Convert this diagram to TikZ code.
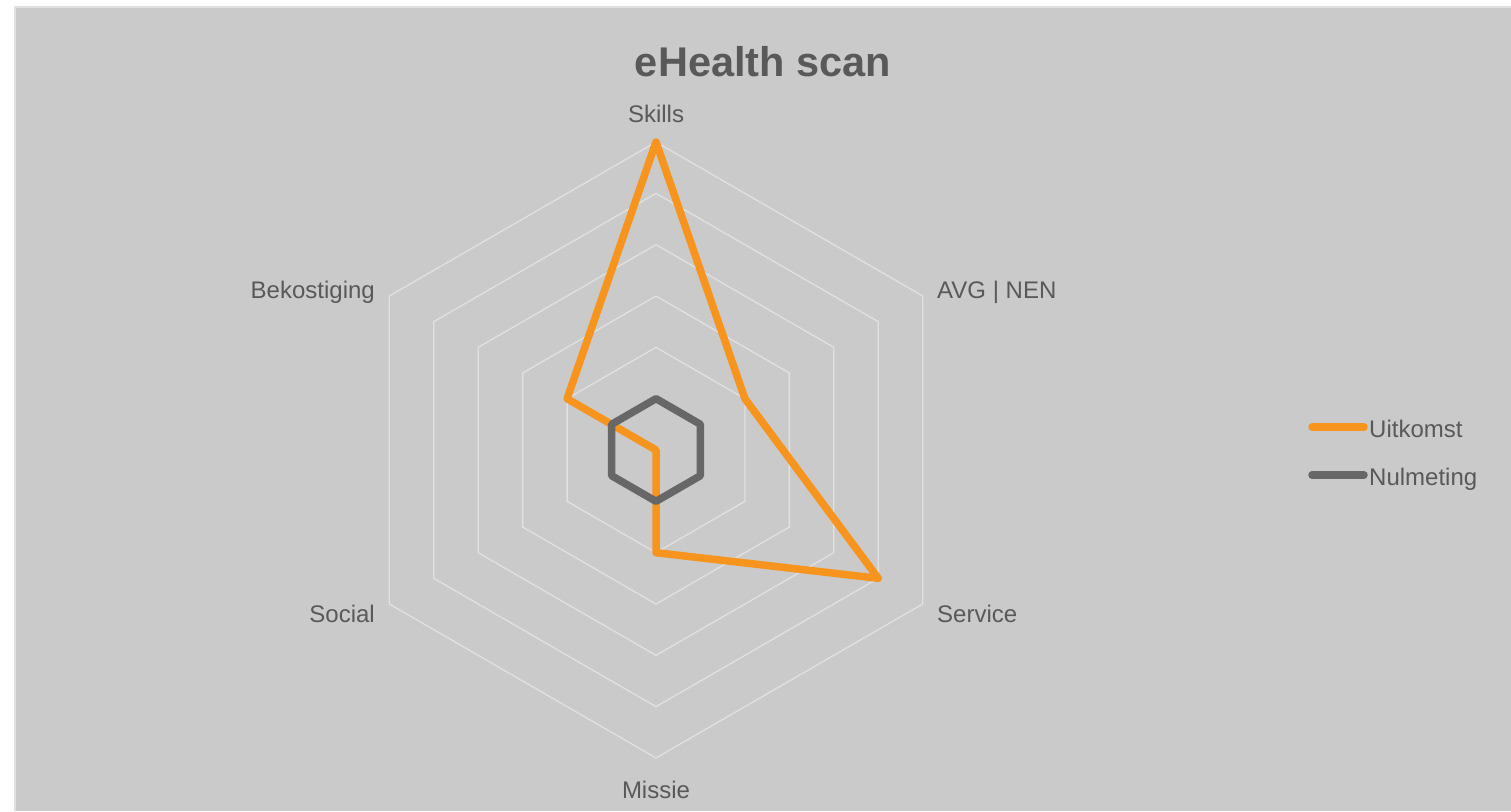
\documentclass[tikz,border=0pt]{standalone}
\usepackage{fontspec}
\setmainfont{Liberation Sans}
\definecolor{chartbg}{HTML}{CACACA}
\definecolor{gridline}{HTML}{E1E1E1}
\definecolor{labelgray}{HTML}{595959}
\definecolor{uitkomst}{HTML}{F7941E}
\definecolor{nulmeting}{HTML}{676767}
\tikzset{
  axislabel/.style={text=labelgray, font=\fontsize{24}{28}\selectfont, inner sep=0pt},
  charttitle/.style={text=labelgray, font=\fontsize{41.5}{48}\selectfont\bfseries, inner sep=0pt},
  series/.style={line width=7.5pt, line join=round},
  ring/.style={draw=gridline, line width=1.3pt}
}
\begin{document}
\begin{tikzpicture}[x=1pt,y=-1pt]
  \useasboundingbox (0,0) rectangle (1511,811);
  \fill[white] (0,0) rectangle (1511,811);
  \fill[chartbg] (15,7) rectangle (1511,811);
  \draw[gridline, line width=1.5pt] (15,811) -- (15,7) -- (1511,7);
  \node[charttitle, anchor=base] (title) at (763,76) {eHealth scan};

  \begin{scope}[shift={(656,450)}, x=51.33pt, y=51.33pt]
    % rings
    \foreach \r in {1,...,6}
      \draw[ring] (90:\r) -- (30:\r) -- (-30:\r) -- (-90:\r) -- (-150:\r) -- (150:\r) -- cycle;
    % series
    \draw[series, uitkomst] (90:6) -- (30:2) -- (-30:5) -- (-90:2) -- (0,0) -- (150:2) -- cycle;
    \draw[series, nulmeting] (90:1) -- (30:1) -- (-30:1) -- (-90:1) -- (-150:1) -- (150:1) -- cycle;
  \end{scope}

  % axis labels
  \node[axislabel, anchor=base] (skills) at (656,122) {Skills};
  \node[axislabel, anchor=base west] (avg) at (937,298) {AVG | NEN};
  \node[axislabel, anchor=base west] (service) at (937,622) {Service};
  \node[axislabel, anchor=base] (missie) at (656,798) {Missie};
  \node[axislabel, anchor=base east] (social) at (375,622) {Social};
  \node[axislabel, anchor=base east] (bekostiging) at (375,298) {Bekostiging};

  % legend
  \coordinate (u1) at (1312,427);
  \coordinate (u2) at (1364,427);
  \coordinate (n1) at (1312,475);
  \coordinate (n2) at (1364,475);
  \draw[series, uitkomst, line cap=round] (u1) -- (u2);
  \draw[series, nulmeting, line cap=round] (n1) -- (n2);
  \node[axislabel, anchor=base west] (ulabel) at (1369,437) {Uitkomst};
  \node[axislabel, anchor=base west] (nlabel) at (1369,485) {Nulmeting};
\end{tikzpicture}
\end{document}
